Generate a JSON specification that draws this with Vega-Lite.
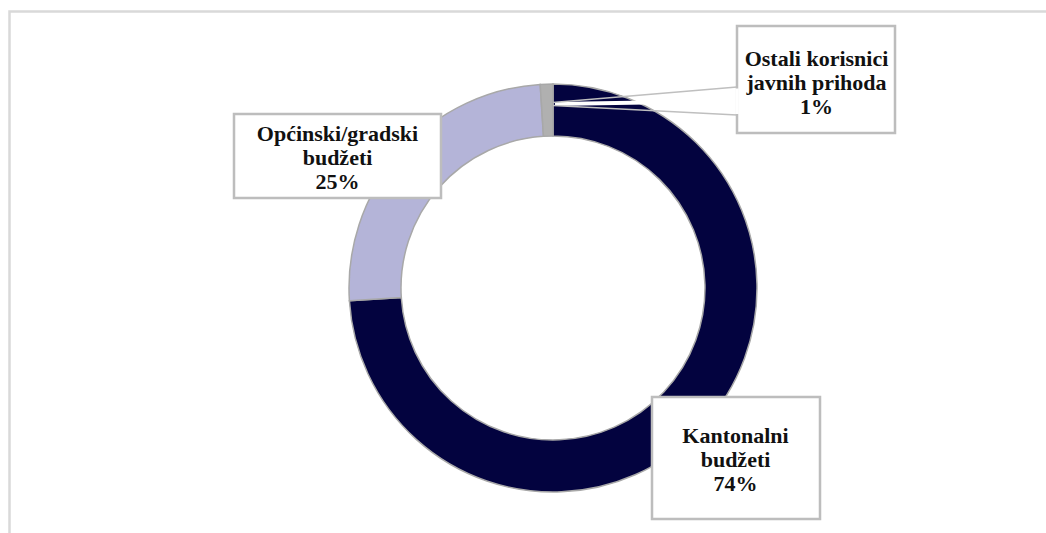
{
  "$schema": "https://vega.github.io/schema/vega-lite/v6.json",
  "width": 1046,
  "height": 533,
  "padding": 0,
  "autosize": {"type": "none"},
  "background": "white",
  "config": {"view": {"stroke": null}},
  "data": {"values": [
    {"category": "Kantonalni budžeti", "value": 74, "lines": ["Kantonalni", "budžeti", "74%"]},
    {"category": "Općinski/gradski budžeti", "value": 25, "lines": ["Općinski/gradski", "budžeti", "25%"]},
    {"category": "Ostali korisnici javnih prihoda", "value": 1, "lines": ["Ostali korisnici", "javnih prihoda", "1%"]}
  ]},
  "layer": [
    {
      "data": {"values": [{}]},
      "mark": {"type": "rect", "filled": false, "stroke": "#d9d9d9", "strokeWidth": 2.5},
      "encoding": {
        "x": {"datum": 9.5, "type": "quantitative", "scale": {"domain": [0, 1046], "nice": false, "zero": false}, "axis": null},
        "x2": {"datum": 1080},
        "y": {"datum": 11.5, "type": "quantitative", "scale": {"domain": [0, 533], "reverse": true, "nice": false, "zero": false}, "axis": null},
        "y2": {"datum": 580}
      }
    },
    {
      "mark": {"type": "arc", "radius": 204, "radius2": 152, "stroke": "#a8a8a8", "strokeWidth": 1.5},
      "encoding": {
        "theta": {"field": "value", "type": "quantitative", "stack": true},
        "order": {"field": "value", "sort": "descending"},
        "color": {
          "field": "category", "type": "nominal", "legend": null,
          "scale": {"domain": ["Kantonalni budžeti", "Općinski/gradski budžeti", "Ostali korisnici javnih prihoda"], "range": ["#03033f", "#b4b4d8", "#b0b0b0"]}
        },
        "x": {"datum": 553, "type": "quantitative"},
        "y": {"datum": 288, "type": "quantitative"}
      }
    },
    {
      "data": {"values": [{}]},
      "mark": {"type": "rule", "stroke": "white", "strokeWidth": 4},
      "encoding": {
        "x": {"datum": 555, "type": "quantitative"},
        "y": {"datum": 104, "type": "quantitative"},
        "x2": {"datum": 737},
        "y2": {"datum": 101}
      }
    },
    {
      "data": {"values": [{}]},
      "mark": {"type": "rule", "stroke": "#bfbfbf", "strokeWidth": 1.5},
      "encoding": {
        "x": {"datum": 737, "type": "quantitative"},
        "y": {"datum": 87, "type": "quantitative"},
        "x2": {"datum": 553},
        "y2": {"datum": 102.5}
      }
    },
    {
      "data": {"values": [{}]},
      "mark": {"type": "rule", "stroke": "#bfbfbf", "strokeWidth": 1.5},
      "encoding": {
        "x": {"datum": 553, "type": "quantitative"},
        "y": {"datum": 105.5, "type": "quantitative"},
        "x2": {"datum": 737},
        "y2": {"datum": 115}
      }
    },
    {
      "transform": [{"filter": "datum.value == 74"}],
      "mark": {"type": "rect", "fill": "white", "stroke": "#bdbdbd", "strokeWidth": 2.5},
      "encoding": {
        "x": {"datum": 652, "type": "quantitative"}, "x2": {"datum": 820},
        "y": {"datum": 397, "type": "quantitative"}, "y2": {"datum": 519}
      }
    },
    {
      "transform": [{"filter": "datum.value == 25"}],
      "mark": {"type": "rect", "fill": "white", "stroke": "#bdbdbd", "strokeWidth": 2.5},
      "encoding": {
        "x": {"datum": 234, "type": "quantitative"}, "x2": {"datum": 441},
        "y": {"datum": 114, "type": "quantitative"}, "y2": {"datum": 198}
      }
    },
    {
      "transform": [{"filter": "datum.value == 1"}],
      "mark": {"type": "rect", "fill": "white", "stroke": "#bdbdbd", "strokeWidth": 2.5},
      "encoding": {
        "x": {"datum": 737, "type": "quantitative"}, "x2": {"datum": 895},
        "y": {"datum": 26, "type": "quantitative"}, "y2": {"datum": 133}
      }
    },
    {
      "data": {"values": [{}]},
      "mark": {"type": "rule", "stroke": "white", "strokeWidth": 3.5},
      "encoding": {
        "x": {"datum": 737, "type": "quantitative"},
        "y": {"datum": 88.5, "type": "quantitative"},
        "y2": {"datum": 114}
      }
    },
    {
      "transform": [{"filter": "datum.value == 74"}],
      "mark": {"type": "text", "font": "Liberation Serif", "fontWeight": "bold", "fontSize": 22, "lineHeight": 24, "align": "center", "baseline": "middle", "color": "#111111"},
      "encoding": {
        "x": {"datum": 735.5, "type": "quantitative"},
        "y": {"datum": 436, "type": "quantitative"},
        "text": {"field": "lines"}
      }
    },
    {
      "transform": [{"filter": "datum.value == 25"}],
      "mark": {"type": "text", "font": "Liberation Serif", "fontWeight": "bold", "fontSize": 22, "lineHeight": 24, "align": "center", "baseline": "middle", "color": "#111111"},
      "encoding": {
        "x": {"datum": 337.5, "type": "quantitative"},
        "y": {"datum": 134, "type": "quantitative"},
        "text": {"field": "lines"}
      }
    },
    {
      "transform": [{"filter": "datum.value == 1"}],
      "mark": {"type": "text", "font": "Liberation Serif", "fontWeight": "bold", "fontSize": 22, "lineHeight": 24, "align": "center", "baseline": "middle", "color": "#111111"},
      "encoding": {
        "x": {"datum": 816.5, "type": "quantitative"},
        "y": {"datum": 58.5, "type": "quantitative"},
        "text": {"field": "lines"}
      }
    }
  ]
}
